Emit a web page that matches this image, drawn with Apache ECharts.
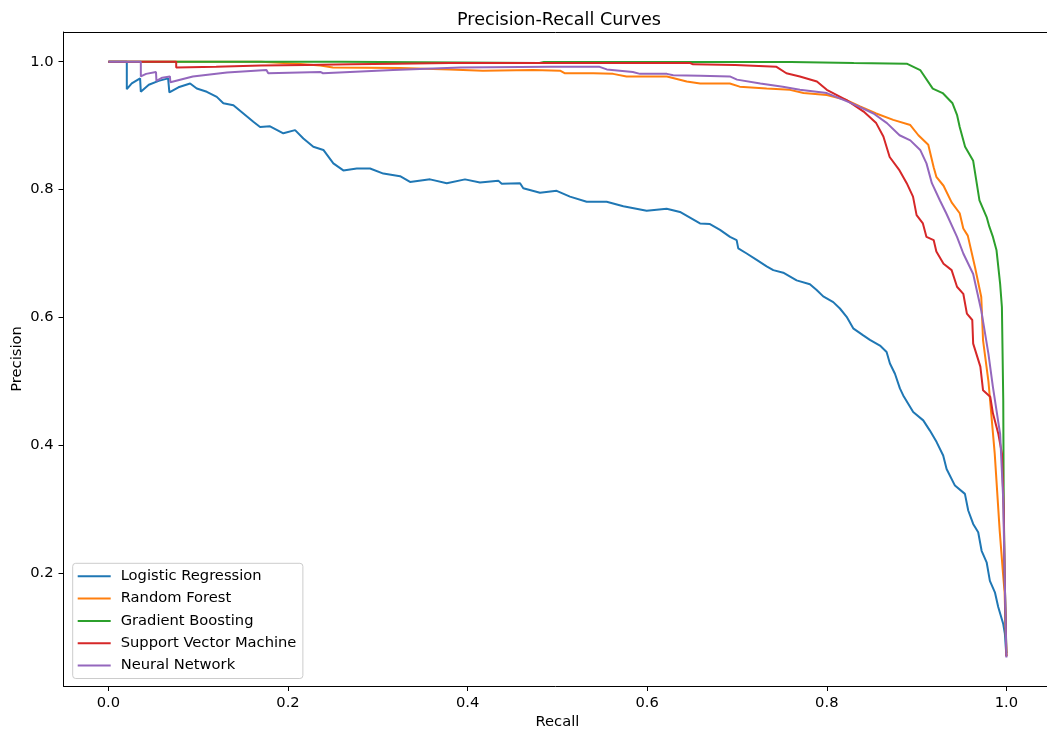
<!DOCTYPE html>
<html>
<head>
<meta charset="utf-8">
<script src="https://cdn.jsdelivr.net/npm/echarts@6/dist/echarts.min.js"></script>
<style>
html,body{margin:0;padding:0;background:#fff;}
#chart{width:1047px;height:737px;}
</style>
</head>
<body>
<div id="chart"></div>
<script>
// ---- data (recall, precision) ----
const seriesNames = ["Logistic Regression", "Random Forest", "Gradient Boosting", "Support Vector Machine", "Neural Network"];
const xTicks = [0.0, 0.2, 0.4, 0.6, 0.8, 1.0];
const yTicks = [0.2, 0.4, 0.6, 0.8, 1.0];

const logisticRegression = [
  [0,1.0],[0.0205,1.0],[0.0205,0.957],[0.026,0.966],[0.0353,0.974],[0.0361,0.953],[0.045,0.964],[0.056,0.970],[0.0665,0.974],
  [0.0679,0.952],[0.078,0.960],[0.091,0.966],[0.0984,0.958],[0.1096,0.953],[0.1207,0.945],[0.128,0.935],[0.1392,0.932],
  [0.1503,0.919],[0.1614,0.906],[0.1689,0.898],[0.180,0.899],[0.1948,0.888],[0.2079,0.893],[0.2171,0.880],[0.2282,0.867],
  [0.2394,0.862],[0.2505,0.841],[0.2616,0.830],[0.2766,0.833],[0.2914,0.833],[0.3062,0.825],[0.3248,0.821],[0.3359,0.812],
  [0.3582,0.816],[0.3768,0.810],[0.3971,0.816],[0.4138,0.811],[0.4342,0.814],[0.438,0.809],[0.4584,0.810],[0.462,0.802],
  [0.4806,0.795],[0.4992,0.798],[0.514,0.789],[0.5326,0.781],[0.5549,0.781],[0.5734,0.774],[0.5994,0.767],[0.6217,0.770],
  [0.6365,0.765],[0.6588,0.747],[0.6699,0.746],[0.6811,0.737],[0.6922,0.726],[0.6996,0.721],[0.7014,0.708],[0.7108,0.700],
  [0.7219,0.690],[0.733,0.680],[0.7404,0.674],[0.7515,0.670],[0.7664,0.658],[0.7812,0.652],[0.7887,0.643],[0.796,0.633],
  [0.8072,0.624],[0.8146,0.614],[0.8221,0.601],[0.8294,0.583],[0.8406,0.572],[0.848,0.565],[0.8592,0.556],[0.8666,0.546],
  [0.8703,0.528],[0.8759,0.512],[0.8814,0.489],[0.8851,0.478],[0.8962,0.452],[0.9074,0.439],[0.9148,0.423],[0.9223,0.405],
  [0.9296,0.384],[0.9334,0.363],[0.9427,0.337],[0.9538,0.324],[0.9575,0.298],[0.963,0.277],[0.9686,0.264],[0.9724,0.235],
  [0.978,0.217],[0.9816,0.188],[0.9872,0.170],[0.9909,0.147],[0.9964,0.121],[0.9983,0.105],[1.0,0.07]
];
const randomForest = [
  [0,1.0],[0.17,1.0],[0.21,0.997],[0.236,0.994],[0.25,0.991],[0.325,0.990],[0.38,0.988],[0.417,0.986],[0.473,0.987],
  [0.503,0.986],[0.508,0.982],[0.54,0.982],[0.562,0.981],[0.577,0.977],[0.622,0.977],[0.644,0.969],[0.659,0.966],
  [0.692,0.966],[0.703,0.961],[0.733,0.958],[0.759,0.956],[0.774,0.951],[0.80,0.948],[0.822,0.940],[0.837,0.930],
  [0.855,0.919],[0.874,0.909],[0.893,0.901],[0.902,0.885],[0.913,0.870],[0.919,0.835],[0.922,0.820],[0.930,0.806],
  [0.939,0.780],[0.948,0.763],[0.952,0.739],[0.957,0.728],[0.965,0.679],[0.972,0.632],[0.974,0.564],[0.980,0.500],
  [0.987,0.387],[0.9925,0.267],[0.9962,0.200],[0.998,0.170],[1.0,0.07]
];
const gradientBoosting = [
  [0,1.0],[0.26,1.0],[0.262,0.998],[0.48,0.998],[0.485,0.9995],[0.76,0.9995],[0.83,0.998],[0.889,0.997],[0.904,0.987],
  [0.918,0.958],[0.929,0.951],[0.940,0.935],[0.945,0.917],[0.948,0.898],[0.954,0.867],[0.963,0.845],[0.970,0.783],
  [0.978,0.757],[0.981,0.742],[0.985,0.726],[0.989,0.705],[0.993,0.653],[0.995,0.616],[0.9965,0.470],[0.997,0.314],
  [0.998,0.200],[1.0,0.075]
];
const supportVectorMachine = [
  [0,1.0],[0.0755,1.0],[0.0755,0.991],[0.12,0.992],[0.17,0.994],[0.22,0.995],[0.27,0.996],[0.32,0.997],[0.38,0.998],
  [0.547,0.998],[0.648,0.998],[0.651,0.996],[0.698,0.995],[0.744,0.992],[0.755,0.982],[0.770,0.977],[0.789,0.969],
  [0.800,0.956],[0.822,0.940],[0.841,0.922],[0.855,0.904],[0.863,0.883],[0.870,0.851],[0.881,0.830],[0.889,0.810],
  [0.896,0.789],[0.900,0.760],[0.907,0.747],[0.911,0.726],[0.919,0.721],[0.922,0.703],[0.930,0.684],[0.939,0.674],
  [0.945,0.648],[0.952,0.637],[0.956,0.606],[0.962,0.596],[0.963,0.559],[0.971,0.523],[0.974,0.486],[0.982,0.476],
  [0.985,0.450],[0.991,0.418],[0.995,0.387],[0.997,0.300],[0.998,0.200],[1.0,0.07]
];
const neuralNetwork = [
  [0,1.0],[0.0361,1.0],[0.0361,0.977],[0.042,0.981],[0.053,0.984],[0.0535,0.970],[0.060,0.975],[0.0685,0.977],[0.069,0.968],
  [0.094,0.977],[0.132,0.983],[0.176,0.987],[0.178,0.982],[0.236,0.984],[0.239,0.982],[0.317,0.987],[0.392,0.991],
  [0.492,0.992],[0.547,0.992],[0.555,0.988],[0.584,0.984],[0.592,0.981],[0.622,0.981],[0.629,0.979],[0.659,0.978],
  [0.692,0.977],[0.700,0.972],[0.726,0.966],[0.751,0.961],[0.770,0.956],[0.800,0.951],[0.826,0.936],[0.837,0.929],
  [0.852,0.919],[0.867,0.904],[0.881,0.885],[0.893,0.877],[0.904,0.862],[0.911,0.841],[0.917,0.810],[0.926,0.783],
  [0.933,0.763],[0.945,0.726],[0.952,0.700],[0.963,0.668],[0.972,0.611],[0.980,0.543],[0.985,0.491],[0.993,0.418],
  [0.9965,0.314],[0.998,0.200],[1.0,0.068]
];
const seriesData = [logisticRegression, randomForest, gradientBoosting, supportVectorMachine, neuralNetwork];
const colors = ["#1f77b4", "#ff7f0e", "#2ca02c", "#d62728", "#9467bd"];

// ---- chart ----
const FONT = "DejaVu Sans";
const FS = 14.7;
const chart = echarts.init(document.getElementById('chart'), null, {renderer: 'canvas'});
const axisTextStyle = {fontFamily: FONT, fontSize: FS, color: '#000'};
const option = {
  animation: false,
  backgroundColor: '#ffffff',
  color: colors,
  title: {
    text: 'Precision-Recall Curves',
    left: 452, top: 6,
    textStyle: {fontFamily: FONT, fontSize: 17.6, fontWeight: 'normal', color: '#000'}
  },
  grid: {
    left: 63.5, top: 32, right: -4.3, bottom: 51, show: false,
    containLabel: false, outerBoundsMode: 'none'
  },
  legend: {
    orient: 'vertical',
    left: 72.7, top: 563.3,
    padding: [5.5, 6.5, 5.5, 4],
    itemWidth: 33, itemHeight: 14, itemGap: 7.3,
    backgroundColor: 'rgba(255,255,255,0.8)',
    borderColor: '#cccccc', borderWidth: 1, borderRadius: 3,
    itemStyle: {opacity: 0},
    lineStyle: {width: 2},
    textStyle: {fontFamily: FONT, fontSize: FS, color: '#000', padding: [0, 0, 0, 5]},
    data: seriesNames
  },
  xAxis: [{
    type: 'value', min: -0.05, max: 1.05, position: 'bottom',
    name: 'Recall', nameLocation: 'middle', nameGap: 29, nameMoveOverlap: false,
    nameTextStyle: axisTextStyle,
    axisLine: {show: true, onZero: false, lineStyle: {color: '#000', width: 1}},
    axisTick: {show: true, length: 5, lineStyle: {color: '#000'}, customValues: xTicks},
    axisLabel: Object.assign({margin: 10, customValues: xTicks, formatter: v => v.toFixed(1)}, axisTextStyle),
    splitLine: {show: false}
  }, {
    type: 'value', min: -0.05, max: 1.05, position: 'top',
    axisLine: {show: true, onZero: false, lineStyle: {color: '#000', width: 1}},
    axisTick: {show: false}, axisLabel: {show: false}, splitLine: {show: false}
  }],
  yAxis: {
    type: 'value', min: 0.0235, max: 1.0465,
    name: 'Precision', nameLocation: 'middle', nameGap: 39, nameMoveOverlap: false,
    nameTextStyle: axisTextStyle,
    axisLine: {show: true, onZero: false, lineStyle: {color: '#000', width: 1}},
    axisTick: {show: true, length: 5, lineStyle: {color: '#000'}, customValues: yTicks},
    axisLabel: Object.assign({margin: 10, customValues: yTicks, formatter: v => v.toFixed(1)}, axisTextStyle),
    splitLine: {show: false}
  },
  series: seriesNames.map((name, i) => ({
    name: name,
    type: 'line',
    xAxisIndex: 0,
    data: seriesData[i],
    symbol: 'none',
    showSymbol: false,
    smooth: false,
    lineStyle: {width: 2, color: colors[i]},
    itemStyle: {color: colors[i]},
    z: 2 + i
  }))
};
chart.setOption(option);
</script>
</body>
</html>
